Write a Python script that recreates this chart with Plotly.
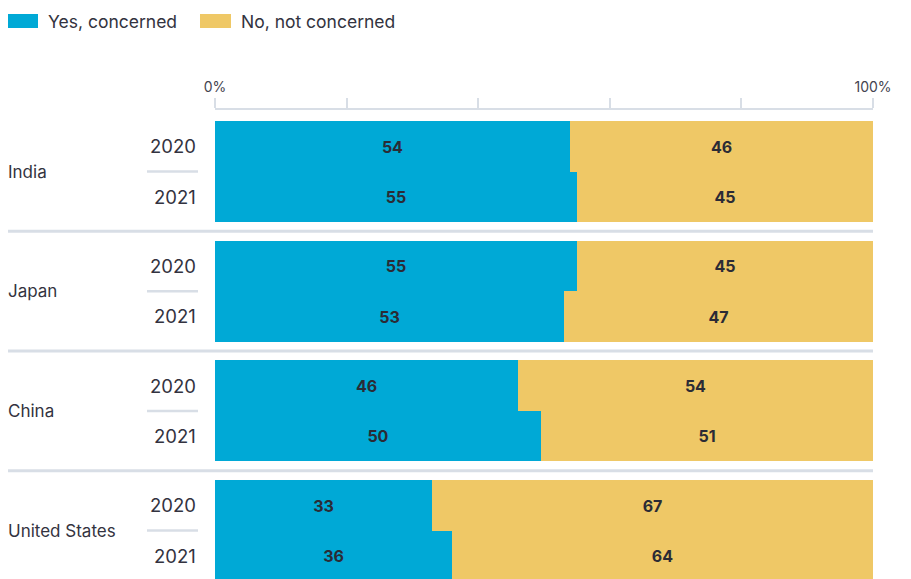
import plotly.graph_objects as go

countries = ["India", "Japan", "China", "United States"]
years = ["2020", "2021"]
yes_vals = [54, 55, 55, 53, 46, 50, 33, 36]
no_vals = [46, 45, 45, 47, 54, 51, 67, 64]
series_names = ["Yes, concerned", "No, not concerned"]
tick_vals = [0, 20, 40, 60, 80, 100]
tick_text = ["0%", "", "", "", "", "100%"]

BLUE = "#00a9d6"
YELLOW = "#efc866"
GRAY = "#d8dee6"
TXT = "#333340"

W, H = 911, 579
ML, MR, MT, MB = 215, 38, 110, 0
PW = W - ML - MR
PH = H - MT - MB

STEP = 2.37          # group step in bar units
Y_TOP = -0.718
Y_BOT = Y_TOP + PH / 50.5

ypos = []
for g in range(len(countries)):
    for k in range(len(years)):
        ypos.append(g * STEP + k)

# normalise so each bar spans 0-100 (values are rounded)
tot = [a + b for a, b in zip(yes_vals, no_vals)]
yes_w = [a / t * 100 for a, t in zip(yes_vals, tot)]
no_w = [b / t * 100 for b, t in zip(no_vals, tot)]

fig = go.Figure()
for name, w, v, c in [(series_names[0], yes_w, yes_vals, BLUE),
                      (series_names[1], no_w, no_vals, YELLOW)]:
    fig.add_trace(go.Bar(
        name=name, y=ypos, x=w, orientation="h", width=1,
        marker=dict(color=c, line=dict(width=0)),
        text=[str(t) for t in v], textposition="inside",
        insidetextanchor="middle", constraintext="none",
        textfont=dict(color="#2b2b35", size=16, family="Inter", weight=700),
        showlegend=False, hoverinfo="skip",
    ))


def px_x(px):
    return (px - ML) / PW


def py(y):
    return (y - Y_BOT) / (Y_TOP - Y_BOT)


def pix_y(p):
    return 1 - (p - MT) / PH


shapes = []
annotations = []
for g, cname in enumerate(countries):
    y0 = g * STEP
    annotations.append(dict(x=px_x(6), y=y0 + 0.5, xref="paper", yref="y",
                            text=cname, showarrow=False, xanchor="left",
                            font=dict(size=17, color=TXT, family="Inter")))
    for k, yr in enumerate(years):
        annotations.append(dict(x=px_x(198), y=y0 + k, xref="paper", yref="y",
                                text=yr, showarrow=False, xanchor="right",
                                font=dict(size=18.5, color=TXT, family="Inter")))
    shapes.append(dict(type="line", xref="paper", yref="paper",
                       x0=px_x(147), x1=px_x(198), y0=py(y0 + 0.5), y1=py(y0 + 0.5),
                       line=dict(color=GRAY, width=2.5)))
    if g < len(countries) - 1:
        ys = y0 + 1.5 + (STEP - 2) / 2
        shapes.append(dict(type="line", xref="paper", yref="paper",
                           x0=px_x(8), x1=px_x(873), y0=py(ys), y1=py(ys),
                           line=dict(color=GRAY, width=3)))

# manual legend
leg = [(8, 38, 46, series_names[0], BLUE), (200, 231, 239, series_names[1], YELLOW)]
for x0, x1, tx, name, c in leg:
    shapes.append(dict(type="rect", xref="paper", yref="paper",
                       x0=px_x(x0), x1=px_x(x1), y0=pix_y(28), y1=pix_y(14),
                       fillcolor=c, line=dict(width=0)))
    annotations.append(dict(x=px_x(tx), y=pix_y(21.5), xref="paper", yref="paper",
                            text=name, showarrow=False, xanchor="left", yanchor="middle",
                            font=dict(size=17.5, color=TXT, family="Inter")))

fig.update_layout(
    width=W, height=H, barmode="stack", bargap=0,
    margin=dict(l=ML, r=MR, t=MT, b=MB),
    paper_bgcolor="white", plot_bgcolor="white",
    shapes=shapes, annotations=annotations,
    xaxis=dict(side="top", range=[0, 100], tickvals=tick_vals, ticktext=tick_text,
               ticks="outside", ticklen=10, tickwidth=2, tickcolor=GRAY,
               showline=True, linecolor=GRAY, linewidth=2,
               showgrid=False, zeroline=False,
               tickfont=dict(size=14, color="#444450", family="Inter")),
    yaxis=dict(range=[Y_BOT, Y_TOP], showticklabels=False, showgrid=False,
               zeroline=False, showline=False, ticks=""),
    font=dict(family="Inter"),
)

fig.write_html("out.html")
